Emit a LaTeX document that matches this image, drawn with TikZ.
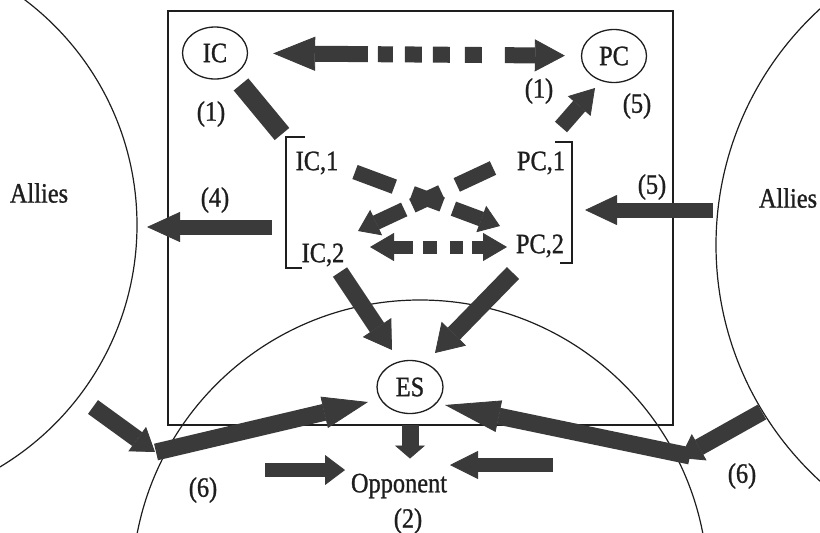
\documentclass[tikz,border=0pt]{standalone}
\usepackage{fontspec}
\setmainfont{Liberation Serif}[FakeStretch=0.87,FakeBold=1]
\usetikzlibrary{arrows.meta,shapes.geometric}
\definecolor{ink}{HTML}{1E1E1E}
\definecolor{arr}{HTML}{3A3A3A}
\begin{document}
\begin{tikzpicture}[x=1pt,y=-1pt,
  lbl/.style={font=\fontsize{28}{28}\selectfont, inner sep=0pt, text=ink},
  oval/.style={ellipse, draw=ink, line width=1.3pt, inner sep=0pt, lbl},
  fat/.style={draw=arr, line width=#1},
  ahead/.style n args={2}{-{Triangle[length=#1,width=#2,line width=0.8pt]}},
  thin/.style={draw=ink, line width=1.2pt}
]
\useasboundingbox (0,0) rectangle (820,533);
% big circles (regions)
\begin{scope}
  \clip (0,0) rectangle (820,533);
  \draw[thin] (-145,225) circle[radius=282pt];
  \draw[thin] (1036,245) circle[radius=320pt];
  \draw[thin] (420,588) circle[radius=288pt];
\end{scope}
% frame
\draw[draw=ink, line width=1.5pt] (168,11) rectangle (673,425);
% brackets
\draw[thin] (305,137) -- (286,137) -- (286,268) -- (302,268);
\draw[thin] (555,142) -- (572,142) -- (572,263) -- (560,263);

% nodes
\node[oval, minimum width=65pt, minimum height=52pt] (IC) at (215,53) {IC};
\node[oval, minimum width=65pt, minimum height=53pt] (PC) at (614,56) {PC};
\node[oval, minimum width=66pt, minimum height=53pt] (ES) at (410,387) {ES};
\node[lbl] (IC1) at (317,163) {IC,1};
\node[lbl] (PC1) at (541,163) {PC,1};
\node[lbl] (IC2) at (323,255) {IC,2};
\node[lbl] (PC2) at (540,246) {PC,2};
\node[lbl] (AL) at (39,193) {Allies};
\node[lbl] (AR) at (788,198) {Allies};
\node[lbl] (Opp) at (399,486) {Opponent};
\node[lbl] (n2) at (408,521) {(2)};
\node[lbl] (n1a) at (211,114) {(1)};
\node[lbl] (n1b) at (539,91) {(1)};
\node[lbl] (n5a) at (637,106) {(5)};
\node[lbl] (n4) at (215,200) {(4)};
\node[lbl] (n5b) at (652,187) {(5)};
\node[lbl] (n6a) at (203,490) {(6)};
\node[lbl] (n6b) at (742,476) {(6)};

% coordinates for free ends
\coordinate (icbarE) at (282,134);
\coordinate (pcT) at (561,127);   \coordinate (pcH) at (595,88);
\coordinate (l4T) at (272,227);   \coordinate (l4H) at (147,227);
\coordinate (r5T) at (713,210);   \coordinate (r5H) at (585,210);
\coordinate (x1T) at (355,172);   \coordinate (x1H) at (500,226);
\coordinate (x2T) at (493,168);   \coordinate (x2H) at (358,231);
\coordinate (d1) at (370,247);    \coordinate (d2) at (507,247);
\coordinate (e1T) at (340,272);   \coordinate (e1H) at (392,350);
\coordinate (e2T) at (513,273);   \coordinate (e2H) at (435,353);
\coordinate (o1T) at (265,470);   \coordinate (o1H) at (345,470);
\coordinate (o2T) at (553,465);   \coordinate (o2H) at (450,465);
\coordinate (b1T) at (93,407);    \coordinate (b1H) at (155,452);
\coordinate (b2T) at (156,452);   \coordinate (b2H) at (368,402);
\coordinate (c1T) at (762,412);   \coordinate (c1H) at (680,458);
\coordinate (c2T) at (690,456);   \coordinate (c2H) at (445,405);

% IC <-> PC (dashed fat double arrow)
\draw[fat=16pt, {Triangle[length=42pt,width=34pt,line width=0.8pt]}-{Triangle[length=30pt,width=32pt,line width=0.8pt]},
  shorten <=25pt, shorten >=16pt,
  dash pattern=on 53pt off 10pt on 15pt off 12pt on 17pt off 11pt on 17pt off 15pt on 17pt off 23pt on 300pt]
  (IC) -- (PC);
% IC to bracket bar
\draw[fat=19pt, shorten <=12pt] (IC) -- (icbarE);
% PC,1 -> PC
\draw[fat=16pt, ahead={24pt}{30pt}] (pcT) -- (pcH);
% (4) and (5)
\draw[fat=15pt, ahead={33pt}{30pt}] (l4T) -- (l4H);
\draw[fat=15pt, ahead={32pt}{30pt}] (r5T) -- (r5H);
% crossing arrows
\draw[fat=15pt, ahead={20pt}{28pt}, dash pattern=on 42pt off 19pt on 32pt off 12pt on 300pt] (x1T) -- (x1H);
\draw[fat=15pt, ahead={20pt}{28pt}, dash pattern=on 40pt off 17pt on 32pt off 9pt on 300pt] (x2T) -- (x2H);
% IC,2 <-> PC,2
\draw[fat=13pt, {Triangle[length=24pt,width=28pt,line width=0.8pt]}-{Triangle[length=24pt,width=28pt,line width=0.8pt]},
  dash pattern=on 19pt off 10pt on 14pt off 13pt on 13pt off 9pt on 300pt] (d1) -- (d2);
% to ES
\draw[fat=17pt, ahead={27pt}{34pt}] (e1T) -- (e1H);
\draw[fat=17pt, ahead={27pt}{34pt}] (e2T) -- (e2H);
% ES -> Opponent
\draw[fat=17pt, ahead={13pt}{30pt}, shorten <=11pt, shorten >=15pt] (ES.south) -- (ES.south |- Opp.north);
% side arrows at Opponent
\draw[fat=14pt, ahead={20pt}{30pt}] (o1T) -- (o1H);
\draw[fat=14pt, ahead={28pt}{28pt}] (o2T) -- (o2H);
% bent arrows (6)
\draw[fat=17pt, ahead={22pt}{30pt}] (b1T) -- (b1H);
\draw[fat=17pt, ahead={45pt}{32pt}] (b2T) -- (b2H);
\draw[fat=17pt, ahead={22pt}{30pt}] (c1T) -- (c1H);
\draw[fat=17pt, ahead={55pt}{32pt}] (c2T) -- (c2H);
\end{tikzpicture}
\end{document}
